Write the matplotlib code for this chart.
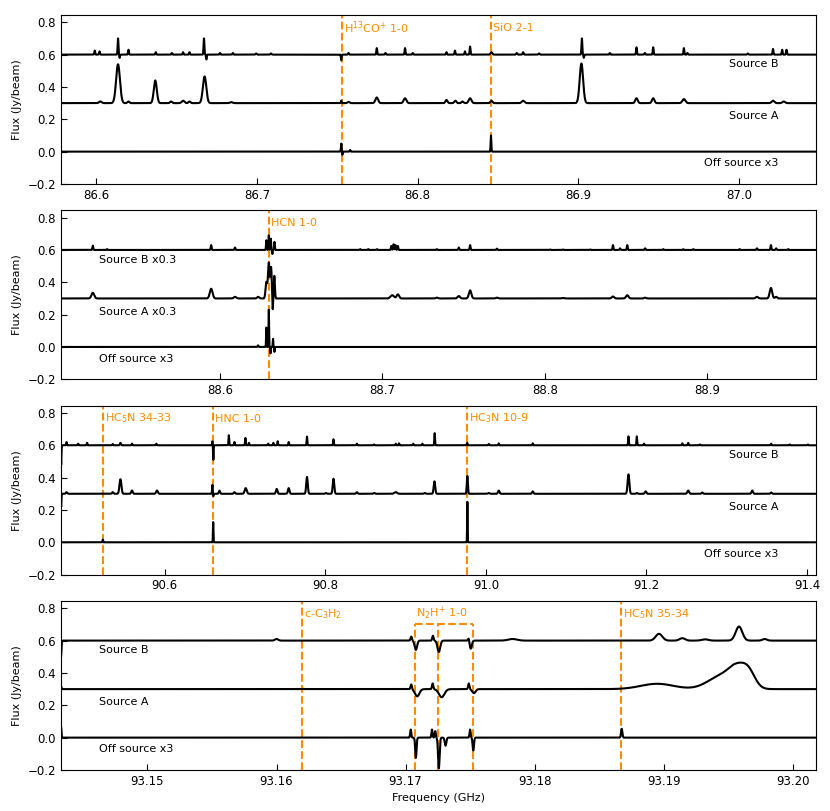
import matplotlib.pyplot as plt
import numpy as np

# frequency range of each panel (GHz)
freq_ranges = [(86.578, 87.048), (88.502, 88.967), (90.471, 91.411), (93.1433, 93.2018)]
channel = [0.00005, 0.00005, 0.0001, 0.00001]

# line features: (centre GHz, peak Jy/beam, fwhm GHz)
p1_srcB = [(86.599, 0.025, 0.0006), (86.602, 0.02, 0.0006), (86.6135, 0.10, 0.0006), (86.6145, -0.02, 0.0005),
           (86.620, 0.03, 0.0006), (86.637, 0.015, 0.0006), (86.647, 0.01, 0.0006), (86.654, 0.015, 0.0006),
           (86.658, 0.015, 0.0006), (86.667, 0.10, 0.0006), (86.6685, -0.03, 0.0005), (86.677, 0.01, 0.0006),
           (86.685, 0.01, 0.0006), (86.6995, 0.007, 0.0008), (86.7087, 0.007, 0.0008), (86.7525, -0.035, 0.0005),
           (86.757, 0.01, 0.0006), (86.7746, 0.04, 0.0006), (86.780, 0.01, 0.0006), (86.7922, 0.04, 0.0006),
           (86.797, 0.01, 0.0006), (86.818, 0.015, 0.0006), (86.8233, 0.025, 0.0006), (86.8295, 0.02, 0.0006),
           (86.8327, 0.05, 0.0006), (86.846, 0.015, 0.0012), (86.8617, 0.01, 0.0008), (86.8657, 0.015, 0.0008),
           (86.8756, 0.007, 0.0008), (86.9023, 0.10, 0.0006), (86.9035, -0.02, 0.0005), (86.9197, 0.01, 0.0006),
           (86.9363, 0.045, 0.0006), (86.9415, 0.01, 0.0006), (86.9467, 0.045, 0.0006), (86.9658, 0.04, 0.0006),
           (86.968, 0.01, 0.0006), (87.0056, 0.007, 0.0008), (87.0213, 0.035, 0.0006), (87.027, 0.03, 0.0006),
           (87.0297, 0.03, 0.0006)]
p1_srcA = [(86.6025, 0.01, 0.002), (86.6135, 0.24, 0.0028), (86.620, 0.01, 0.0015), (86.6367, 0.14, 0.0022),
           (86.6465, 0.01, 0.0015), (86.654, 0.015, 0.002), (86.658, 0.01, 0.0015), (86.6674, 0.165, 0.0025),
           (86.684, 0.006, 0.002), (86.7525, 0.015, 0.0006), (86.757, 0.008, 0.0015), (86.7746, 0.035, 0.002),
           (86.7922, 0.03, 0.002), (86.818, 0.02, 0.0015), (86.8235, 0.015, 0.0015), (86.828, 0.01, 0.0015),
           (86.8327, 0.03, 0.002), (86.846, 0.015, 0.0015), (86.8657, 0.015, 0.002), (86.902, 0.245, 0.0025),
           (86.9363, 0.03, 0.0018), (86.9467, 0.03, 0.0018), (86.9658, 0.025, 0.0022), (87.0213, 0.015, 0.002),
           (87.028, 0.01, 0.002)]
p1_off = [(86.7525, 0.05, 0.0005), (86.7532, -0.02, 0.0004), (86.758, 0.01, 0.0006), (86.8457, 0.10, 0.0005)]

p2_srcB = [(88.5216, 0.027, 0.0006), (88.5304, 0.005, 0.0006), (88.5945, 0.03, 0.0006), (88.6092, 0.015, 0.0006),
           (88.6285, 0.06, 0.0005), (88.6300, 0.09, 0.0005), (88.6312, 0.07, 0.0005), (88.6322, -0.025, 0.0004),
           (88.6335, 0.05, 0.0005), (88.6863, 0.005, 0.0006), (88.6913, 0.005, 0.0006), (88.6967, 0.005, 0.0006),
           (88.7055, 0.025, 0.0006), (88.7068, 0.035, 0.0006), (88.708, 0.03, 0.0006), (88.7095, 0.025, 0.0006),
           (88.7335, 0.005, 0.0006), (88.747, 0.015, 0.0006), (88.754, 0.03, 0.0006), (88.7705, 0.008, 0.0006),
           (88.8033, 0.003, 0.0006), (88.8113, 0.003, 0.0006), (88.828, 0.003, 0.0006), (88.842, 0.03, 0.0006),
           (88.8464, 0.01, 0.0006), (88.8508, 0.03, 0.0006), (88.8618, 0.01, 0.0006), (88.873, 0.005, 0.0006),
           (88.8853, 0.005, 0.0006), (88.8915, 0.005, 0.0006), (88.92, 0.005, 0.0006), (88.9307, 0.01, 0.0006),
           (88.9393, 0.03, 0.0006), (88.9425, 0.01, 0.0006), (88.95, 0.005, 0.0006)]
p2_srcA = [(88.5216, 0.035, 0.002), (88.5945, 0.06, 0.002), (88.6092, 0.01, 0.0018), (88.6234, 0.01, 0.0015),
           (88.6285, 0.10, 0.0012), (88.6300, 0.22, 0.0012), (88.6314, 0.19, 0.001), (88.6324, -0.08, 0.0005),
           (88.6334, 0.14, 0.0008), (88.706, 0.02, 0.0025), (88.7095, 0.025, 0.0018), (88.7335, 0.005, 0.0015),
           (88.747, 0.015, 0.0018), (88.754, 0.05, 0.0018), (88.7705, 0.005, 0.0015), (88.811, 0.003, 0.002),
           (88.842, 0.012, 0.0018), (88.8508, 0.02, 0.0018), (88.8618, 0.005, 0.0015), (88.9307, 0.01, 0.0018),
           (88.9393, 0.065, 0.0018), (88.9425, 0.01, 0.0015)]
p2_off = [(88.6234, 0.01, 0.0006), (88.6285, 0.12, 0.0004), (88.6300, 0.23, 0.0004), (88.6310, -0.04, 0.0004),
          (88.6326, 0.05, 0.0004), (88.6335, -0.03, 0.0004)]

p3_srcB = [(90.4712, -0.12, 0.0008), (90.4779, 0.02, 0.001), (90.4924, 0.01, 0.001), (90.5035, 0.015, 0.001),
           (90.5354, 0.008, 0.001), (90.545, 0.015, 0.0015), (90.5594, 0.01, 0.001), (90.5897, 0.01, 0.001),
           (90.6595, 0.025, 0.0008), (90.6607, -0.09, 0.0008), (90.68, 0.062, 0.001), (90.687, 0.02, 0.001),
           (90.7006, 0.045, 0.001), (90.705, 0.015, 0.001), (90.729, 0.01, 0.001), (90.7354, 0.015, 0.001),
           (90.7408, 0.025, 0.001), (90.7545, 0.02, 0.001), (90.7773, 0.054, 0.001), (90.8103, 0.037, 0.001),
           (90.8394, 0.01, 0.001), (90.861, 0.005, 0.001), (90.8878, 0.01, 0.001), (90.8919, 0.012, 0.001),
           (90.9097, 0.01, 0.001), (90.921, 0.01, 0.001), (90.9363, 0.075, 0.001), (90.9768, 0.015, 0.001),
           (91.0037, 0.008, 0.001), (91.0161, 0.012, 0.001), (91.0584, 0.012, 0.001), (91.1776, 0.055, 0.001),
           (91.188, 0.055, 0.001), (91.197, 0.01, 0.001), (91.2447, 0.012, 0.001), (91.252, 0.015, 0.001),
           (91.2666, 0.005, 0.001), (91.3553, 0.01, 0.001), (91.3785, 0.005, 0.001), (91.401, 0.005, 0.001)]
p3_srcA = [(90.4712, -0.08, 0.0008), (90.4779, 0.01, 0.002), (90.5354, 0.01, 0.002), (90.545, 0.09, 0.0028),
           (90.5594, 0.02, 0.0022), (90.5905, 0.02, 0.0025), (90.6595, 0.055, 0.0008), (90.6607, -0.015, 0.0008),
           (90.6683, 0.02, 0.0018), (90.687, 0.01, 0.002), (90.701, 0.035, 0.003), (90.7396, 0.03, 0.0022),
           (90.7545, 0.035, 0.0022), (90.7773, 0.104, 0.0022), (90.8009, 0.005, 0.002), (90.8103, 0.093, 0.0022),
           (90.8394, 0.01, 0.002), (90.861, 0.005, 0.002), (90.8878, 0.01, 0.004), (90.924, 0.005, 0.002),
           (90.936, 0.077, 0.0022), (90.977, 0.11, 0.0016), (91.0037, 0.005, 0.002), (91.0161, 0.02, 0.0022),
           (91.0584, 0.015, 0.002), (91.1776, 0.12, 0.0025), (91.188, 0.005, 0.002), (91.199, 0.015, 0.0022),
           (91.252, 0.02, 0.0025), (91.2695, 0.008, 0.002), (91.3318, 0.02, 0.0022), (91.3553, 0.008, 0.002)]
p3_off = [(90.523, 0.017, 0.0008), (90.6605, 0.125, 0.0007), (90.977, 0.25, 0.0007)]

p4_srcB = [(93.1433, -0.1, 0.00008), (93.160, 0.01, 0.0003), (93.17044, 0.025, 0.00012), (93.1708, -0.058, 0.00022),
           (93.17212, 0.03, 0.00012), (93.17258, -0.07, 0.00025), (93.1749, 0.02, 0.00012), (93.17505, -0.05, 0.0002),
           (93.1783, 0.01, 0.0008), (93.18964, 0.042, 0.0006), (93.19145, 0.015, 0.0005), (93.1932, 0.008, 0.0006),
           (93.19584, 0.087, 0.0006), (93.19783, 0.01, 0.0004)]
p4_srcA = [(93.1433, 0.02, 0.00008), (93.17044, 0.03, 0.00012), (93.1709, -0.045, 0.0004), (93.1721, 0.035, 0.00012),
           (93.1728, -0.05, 0.0005), (93.1749, 0.035, 0.00012), (93.1753, -0.025, 0.0003), (93.1895, 0.033, 0.003),
           (93.1945, 0.08, 0.0025), (93.1957, 0.10, 0.0015), (93.1966, 0.09, 0.0012)]
p4_off = [(93.1433, 0.07, 0.00008), (93.1704, 0.05, 0.0001), (93.1708, -0.125, 0.00012), (93.17205, 0.05, 0.0001),
          (93.1723, 0.04, 0.0001), (93.17258, -0.19, 0.00014), (93.1731, -0.05, 0.00015), (93.1750, 0.05, 0.0001),
          (93.17525, -0.08, 0.00012), (93.18675, 0.055, 0.00012)]

features = [(p1_srcB, p1_srcA, p1_off), (p2_srcB, p2_srcA, p2_off),
            (p3_srcB, p3_srcA, p3_off), (p4_srcB, p4_srcA, p4_off)]
offsets = [0.6, 0.3, 0.0]

trace_names = [["Source B", "Source A", "Off source x3"],
               ["Source B x0.3", "Source A x0.3", "Off source x3"],
               ["Source B", "Source A", "Off source x3"],
               ["Source B", "Source A", "Off source x3"]]
name_y = [0.54, 0.218, -0.072]

line_freqs = [[86.7528, 86.8458], [88.6300], [90.5230, 90.6605, 90.9768], [93.1620, 93.1867]]
line_names = [[r"H$^{13}$CO$^{+}$ 1-0", "SiO 2-1"], ["HCN 1-0"],
              [r"HC$_5$N 34-33", "HNC 1-0", r"HC$_3$N 10-9"],
              [r"c-C$_3$H$_2$", r"HC$_5$N 35-34"]]
n2hp_freqs = [93.1707, 93.1725, 93.1752]
n2hp_name = r"N$_2$H$^{+}$ 1-0"

orange = "#ff8c00"


def spectrum(freq, peaks, base):
    y = np.full_like(freq, base)
    for f0, a, w in peaks:
        y += a * np.exp(-4 * np.log(2) * ((freq - f0) / w) ** 2)
    return y


fig, axs = plt.subplots(4, 1, figsize=(8.3, 8.11), dpi=100)
fig.subplots_adjust(left=0.0735, right=0.983, top=0.9815, bottom=0.0506, hspace=0.156)

for i, ax in enumerate(axs):
    lo, hi = freq_ranges[i]
    freq = np.arange(lo, hi + channel[i], channel[i])
    for j in range(3):
        ax.plot(freq, spectrum(freq, features[i][j], offsets[j]), color="black", lw=1.5, zorder=3)

    for f, name in zip(line_freqs[i], line_names[i]):
        ax.axvline(f, color=orange, ls="--", lw=1.5, zorder=2)
        ax.annotate(name, (f, 0.765), xytext=(1.5, 0), textcoords="offset points",
                    va="center", ha="left", color=orange, fontsize=8)
    if i == 3:
        ax.vlines(n2hp_freqs, -0.2, 0.7, color=orange, ls="--", lw=1.5, zorder=2)
        ax.hlines(0.7, n2hp_freqs[0], n2hp_freqs[-1], color=orange, ls="--", lw=1.5, zorder=2)
        ax.annotate(n2hp_name, (n2hp_freqs[0], 0.765), xytext=(1, 0), textcoords="offset points",
                    va="center", ha="left", color=orange, fontsize=8)

    for j in range(3):
        if i in (0, 2):
            ax.text(0.95, name_y[j], trace_names[i][j], transform=ax.get_yaxis_transform(),
                    ha="right", va="center", fontsize=8)
        else:
            ax.text(0.05, name_y[j], trace_names[i][j], transform=ax.get_yaxis_transform(),
                    ha="left", va="center", fontsize=8)

    ax.set_xlim(lo, hi)
    ax.set_ylim(-0.2, 0.845)
    ax.set_yticks([-0.2, 0.0, 0.2, 0.4, 0.6, 0.8])
    ax.tick_params(direction="in", labelsize=8.5, length=4)
    ax.set_ylabel("Flux (Jy/beam)", fontsize=8)

axs[0].set_xticks([86.6, 86.7, 86.8, 86.9, 87.0])
axs[1].set_xticks([88.6, 88.7, 88.8, 88.9])
axs[2].set_xticks([90.6, 90.8, 91.0, 91.2, 91.4])
axs[3].set_xticks([93.15, 93.16, 93.17, 93.18, 93.19, 93.20])
axs[3].set_xlabel("Frequency (GHz)", fontsize=8)

plt.savefig("out.png")
